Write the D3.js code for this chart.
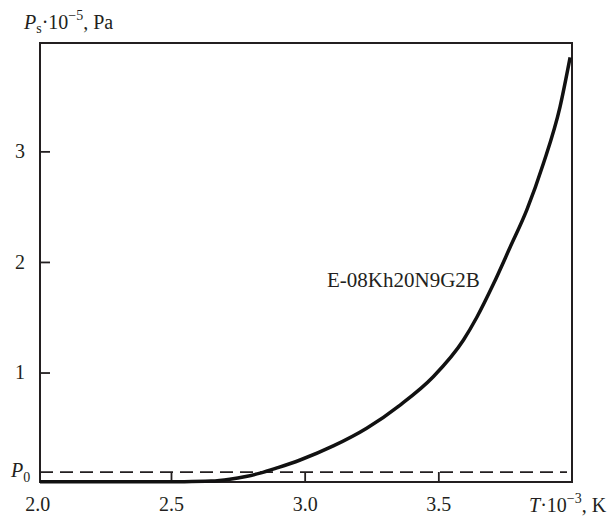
<!DOCTYPE html>
<html>
<head>
<meta charset="utf-8">
<script src="https://cdn.jsdelivr.net/npm/d3@7"></script>
<style>
  body { margin: 0; background: #fff; }
  svg text { font-family: 'Liberation Serif', 'Times New Roman', Times, 'DejaVu Serif', 'Noto Serif', serif !important; fill: #231f20; }
</style>
</head>
<body>
<svg width="614" height="516"></svg>
<script>
const svg = d3.select('svg');

// data
const temps = [2.01, 2.2, 2.4, 2.55, 2.65, 2.72, 2.78, 2.833, 2.9, 2.983, 3.107, 3.232, 3.357,
  3.481, 3.594, 3.644, 3.706, 3.768, 3.831, 3.893, 3.955, 3.993];
const pressures = [0.012, 0.012, 0.012, 0.013, 0.018, 0.035, 0.06, 0.09, 0.14, 0.209, 0.336, 0.496, 0.706,
  0.962, 1.294, 1.50, 1.80, 2.13, 2.47, 2.89, 3.40, 3.85];
const xTicks = [2.0, 2.5, 3.0, 3.5];
const yTicks = [1, 2, 3];
const p0 = 0.1;
const seriesName = 'E-08Kh20N9G2B';

const plotLeft = 40, plotRight = 572, plotTop = 43, plotBottom = 482;

const x = d3.scaleLinear().domain([2.01, 4.0]).range([plotLeft, plotRight]);
const y = d3.scaleLinear().domain([0.01, 3.98]).range([plotBottom, plotTop]);

const data = temps.map((t, i) => ({t: t, p: pressures[i]}));

// P0 dashed line
svg.append('line')
  .attr('x1', plotLeft).attr('x2', plotRight - 5)
  .attr('y1', y(p0)).attr('y2', y(p0))
  .attr('stroke', '#231f20')
  .attr('stroke-width', 1.8)
  .attr('stroke-dasharray', '13,7');

// axes (ticks point inward)
const xAxis = svg.append('g')
  .attr('transform', `translate(0,${plotBottom})`)
  .call(d3.axisBottom(x).tickValues(xTicks).tickSize(-10).tickPadding(15).tickFormat(d3.format('.1f')));
xAxis.select('.domain').remove();
xAxis.selectAll('.tick').filter(d => d === 2.0).select('line').remove();

const yAxis = svg.append('g')
  .attr('transform', `translate(${plotLeft},0)`)
  .call(d3.axisLeft(y).tickValues(yTicks).tickSize(-10).tickPadding(15).tickFormat(d3.format('d')));
yAxis.select('.domain').remove();

svg.selectAll('g').attr('font-family', null);
svg.selectAll('.tick line').attr('stroke', '#231f20').attr('stroke-width', 1.8);
svg.selectAll('.tick text').attr('font-size', 20).attr('fill', '#231f20');

// frame
svg.append('rect')
  .attr('x', plotLeft).attr('y', plotTop)
  .attr('width', plotRight - plotLeft).attr('height', plotBottom - plotTop)
  .attr('fill', 'none')
  .attr('stroke', '#231f20')
  .attr('stroke-width', 2);

// curve
const line = d3.line()
  .x(d => x(d.t))
  .y(d => y(d.p))
  .curve(d3.curveMonotoneX);

svg.append('path')
  .datum(data)
  .attr('d', line)
  .attr('fill', 'none')
  .attr('stroke', '#111')
  .attr('stroke-width', 3.5);

// series label
svg.append('text')
  .attr('x', 327).attr('y', 287)
  .attr('font-size', 21)
  .text(seriesName);

// y title: Ps·10^-5, Pa
const yt = svg.append('text').attr('x', 24).attr('y', 29).attr('font-size', 20);
yt.append('tspan').attr('font-style', 'italic').text('P');
yt.append('tspan').attr('font-size', 14).attr('dy', 4).text('s');
yt.append('tspan').attr('dy', -4).text('·10');
yt.append('tspan').attr('font-size', 14).attr('dy', -9).text('−5');
yt.append('tspan').attr('dy', 9).text(', Pa');

// x title: T·10^-3, K
const xt = svg.append('text').attr('x', 529).attr('y', 512).attr('font-size', 20);
xt.append('tspan').attr('font-style', 'italic').text('T');
xt.append('tspan').text('·10');
xt.append('tspan').attr('font-size', 14).attr('dy', -9).text('−3');
xt.append('tspan').attr('dy', 9).text(', K');

// P0 label
const pl = svg.append('text').attr('x', 11).attr('y', 477).attr('font-size', 20);
pl.append('tspan').attr('font-style', 'italic').text('P');
pl.append('tspan').attr('font-size', 14).attr('dy', 5).text('0');
</script>
</body>
</html>
